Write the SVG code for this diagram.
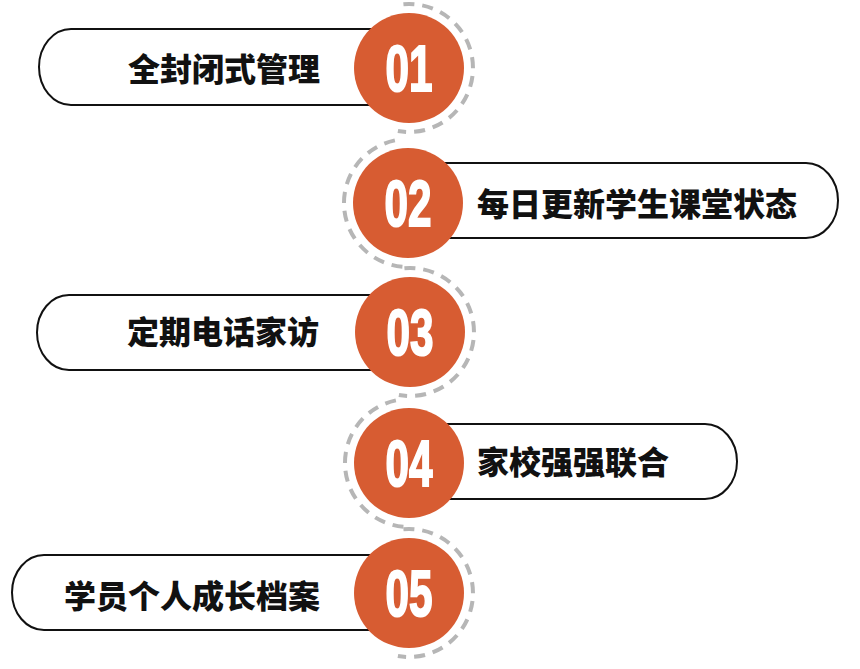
<svg xmlns="http://www.w3.org/2000/svg" width="860" height="669" viewBox="0 0 860 669">
  <style>
    .pill { fill: #ffffff; stroke: #111111; stroke-width: 2; }
    .ring { fill: none; stroke: #b6b6b6; stroke-width: 4; stroke-dasharray: 11 8; }
    .dot { fill: #d75c32; }
    .num { fill: #ffffff; stroke: #ffffff; stroke-width: 2; font-family: "Liberation Sans", Arial, sans-serif; font-weight: bold; font-size: 64px; text-anchor: middle; }
    .lbl { fill: #111111; font-family: "Noto Sans CJK SC", "Noto Sans", sans-serif; font-weight: 900; font-size: 32px; text-anchor: middle; dominant-baseline: central; }
  </style>
  <rect width="860" height="669" fill="#ffffff"/>

  <g id="node-01">
    <rect class="pill" x="39" y="29" width="370" height="76" rx="32" ry="38"/>
    <path class="ring" d="M403.42,4.24 A64,64 0 1 1 397.89,131.03"/>
    <circle class="dot" cx="409" cy="68" r="55"/>
    <text class="num" transform="translate(409,91) scale(0.66,1)">01</text>
    <text class="lbl" x="224" y="67">全封闭式管理</text>
  </g>

  <g id="node-02">
    <rect class="pill" x="408" y="163" width="430" height="75" rx="32" ry="37.5"/>
    <path class="ring" d="M402.42,266.76 A64,64 0 0 1 396.89,139.97"/>
    <circle class="dot" cx="408" cy="203" r="55"/>
    <text class="num" transform="translate(408,226) scale(0.66,1)">02</text>
    <text class="lbl" x="637" y="202">每日更新学生课堂状态</text>
  </g>

  <g id="node-03">
    <rect class="pill" x="37" y="295" width="373" height="75" rx="32" ry="37.5"/>
    <path class="ring" d="M404.42,268.24 A64,64 0 1 1 398.89,395.03"/>
    <circle class="dot" cx="410" cy="332" r="55"/>
    <text class="num" transform="translate(410,355) scale(0.66,1)">03</text>
    <text class="lbl" x="223" y="330">定期电话家访</text>
  </g>

  <g id="node-04">
    <rect class="pill" x="409" y="424" width="328" height="75" rx="32" ry="37.5"/>
    <path class="ring" d="M403.42,526.76 A64,64 0 0 1 397.89,399.97"/>
    <circle class="dot" cx="409" cy="463" r="55"/>
    <text class="num" transform="translate(409,486) scale(0.66,1)">04</text>
    <text class="lbl" x="573" y="460">家校强强联合</text>
  </g>

  <g id="node-05">
    <rect class="pill" x="12" y="555" width="397" height="75" rx="32" ry="37.5"/>
    <path class="ring" d="M403.42,529.24 A64,64 0 1 1 397.89,656.03"/>
    <circle class="dot" cx="409" cy="593" r="55"/>
    <text class="num" transform="translate(409,616) scale(0.66,1)">05</text>
    <text class="lbl" x="192" y="594">学员个人成长档案</text>
  </g>
</svg>
